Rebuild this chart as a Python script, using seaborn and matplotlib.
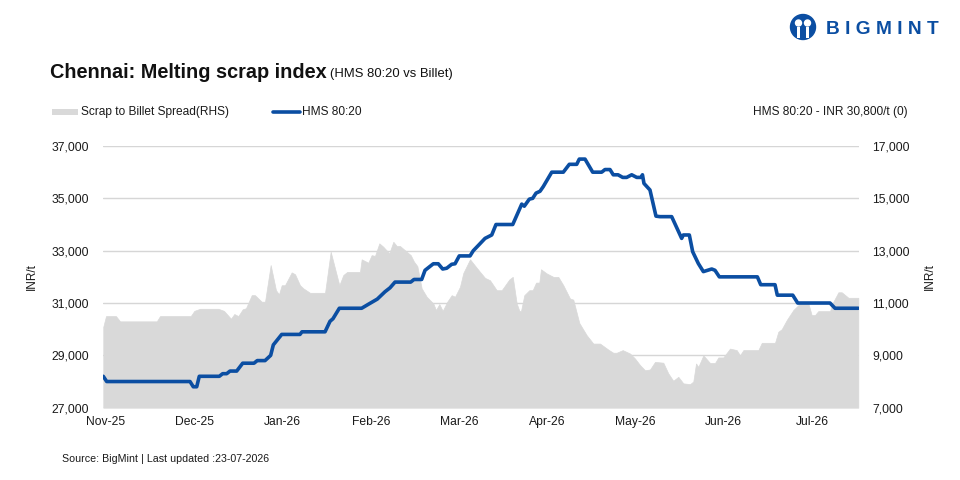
import pandas as pd
import numpy as np
import matplotlib
matplotlib.use('Agg')
import matplotlib.pyplot as plt
import seaborn as sns
from matplotlib.patches import Rectangle, Ellipse
from matplotlib.lines import Line2D
from matplotlib.ticker import FuncFormatter

# x positions are in months from Nov-25 (0 = Nov-25, 8 = Jul-26)
months = ['Nov-25', 'Dec-25', 'Jan-26', 'Feb-26', 'Mar-26',
          'Apr-26', 'May-26', 'Jun-26', 'Jul-26']

hms_x = [-0.031, 0.008, 0.952, 0.989, 1.028, 1.057, 1.284, 1.322, 1.368, 1.405,
         1.481, 1.549, 1.677, 1.714, 1.802, 1.866, 1.896, 1.991, 2.198, 2.221,
         2.482, 2.538, 2.572, 2.644, 2.897, 2.972, 3.074, 3.161, 3.218, 3.275,
         3.453, 3.490, 3.577, 3.615, 3.709, 3.765, 3.815, 3.861, 3.917, 3.955,
         4.003, 4.125, 4.162, 4.219, 4.295, 4.371, 4.419, 4.609, 4.711, 4.740,
         4.797, 4.835, 4.873, 4.918, 4.955, 5.051, 5.182, 5.250, 5.334, 5.363,
         5.428, 5.515, 5.617, 5.654, 5.711, 5.748, 5.802, 5.855, 5.900, 5.957,
         6.014, 6.062, 6.079, 6.096, 6.164, 6.232, 6.277, 6.410, 6.523, 6.542,
         6.610, 6.648, 6.712, 6.769, 6.864, 6.901, 6.950, 7.381, 7.419, 7.581,
         7.607, 7.782, 7.838, 8.204, 8.261, 8.525]
hms_val = [28200, 28000, 28000, 27800, 27800, 28200, 28200, 28300, 28300, 28400,
           28400, 28700, 28700, 28800, 28800, 29000, 29400, 29800, 29800, 29900,
           29900, 30300, 30400, 30800, 30800, 30950, 31150, 31430, 31580, 31800,
           31800, 31900, 31900, 32250, 32500, 32500, 32300, 32330, 32480, 32500,
           32800, 32800, 33000, 33200, 33470, 33600, 34000, 34000, 34780, 34700,
           34970, 35000, 35200, 35270, 35450, 36000, 36000, 36300, 36300, 36500,
           36500, 36000, 36000, 36100, 36100, 35900, 35900, 35800, 35800, 35900,
           35800, 35800, 35900, 35570, 35320, 34320, 34300, 34300, 33470, 33600,
           33600, 32960, 32510, 32200, 32300, 32250, 32000, 32000, 31700, 31700,
           31300, 31300, 31000, 31000, 30800, 30800]

spread_x = [-0.031, 0.000, 0.113, 0.159, 0.575, 0.612, 0.960, 1.001, 1.065, 1.273,
            1.337, 1.416, 1.454, 1.499, 1.549, 1.586, 1.651, 1.688, 1.764, 1.802,
            1.866, 1.926, 1.960, 1.991, 2.028, 2.104, 2.142, 2.198, 2.236, 2.312,
            2.482, 2.546, 2.644, 2.689, 2.734, 2.878, 2.897, 2.972, 3.010, 3.048,
            3.097, 3.142, 3.210, 3.256, 3.294, 3.331, 3.407, 3.453, 3.490, 3.528,
            3.577, 3.634, 3.709, 3.739, 3.777, 3.815, 3.867, 3.917, 3.955, 4.011,
            4.049, 4.125, 4.162, 4.238, 4.295, 4.351, 4.427, 4.484, 4.570, 4.609,
            4.654, 4.684, 4.703, 4.740, 4.797, 4.835, 4.873, 4.910, 4.929, 4.994,
            5.069, 5.125, 5.182, 5.258, 5.295, 5.363, 5.447, 5.522, 5.598, 5.692,
            5.748, 5.786, 5.855, 5.938, 5.994, 6.051, 6.108, 6.164, 6.221, 6.315,
            6.372, 6.428, 6.485, 6.542, 6.618, 6.655, 6.686, 6.712, 6.769, 6.844,
            6.901, 6.939, 6.995, 7.071, 7.147, 7.184, 7.222, 7.392, 7.431, 7.581,
            7.618, 7.657, 7.714, 7.788, 7.864, 7.958, 7.996, 8.034, 8.071, 8.204,
            8.242, 8.299, 8.337, 8.413, 8.525]
spread_val = [10090, 10500, 10500, 10300, 10300, 10500, 10500, 10700, 10780, 10780,
              10700, 10400, 10580, 10500, 10760, 10800, 11300, 11300, 11050, 11050,
              12450, 11490, 11330, 11680, 11680, 12170, 12100, 11680, 11560, 11390,
              11390, 12960, 11680, 12070, 12190, 12190, 12670, 12540, 12830, 12800,
              13280, 13150, 12900, 13340, 13180, 13180, 12960, 12830, 12580, 12410,
              11560, 11240, 10980, 10730, 10960, 10700, 11050, 11300, 11240, 11620,
              12150, 12670, 12510, 12190, 11960, 11870, 11490, 11490, 11900, 12000,
              10980, 10700, 10700, 11300, 11490, 11490, 11780, 11780, 12290, 12130,
              12000, 12000, 11680, 11170, 11130, 10240, 9770, 9450, 9450, 9220,
              9100, 9100, 9200, 9070, 8880, 8630, 8430, 8460, 8750, 8720,
              8310, 8030, 8180, 7930, 7900, 8000, 8690, 8560, 9000, 8710,
              8710, 8920, 8920, 9260, 9200, 9000, 9200, 9200, 9480, 9480,
              9900, 10000, 10350, 10730, 10980, 11000, 10540, 10540, 10690, 10690,
              11050, 11410, 11410, 11200, 11200]

left_ticks = [27000, 29000, 31000, 33000, 35000, 37000]
right_ticks = [7000, 9000, 11000, 13000, 15000, 17000]

BLUE = '#0b4ea2'
GREY = '#d9d9d9'
TXT = '#1a1a1a'

sns.set_style('white')
plt.rcParams['font.family'] = ['Liberation Sans', 'DejaVu Sans']

hms = pd.DataFrame({'x': hms_x, 'HMS 80:20': hms_val})
spread = pd.DataFrame({'x': spread_x, 'spread': spread_val})

fig = plt.figure(figsize=(9.6, 4.8), dpi=100)
# ax2 = base axes (spread, right scale, owns the x axis); ax = twin on top (HMS)
ax2 = fig.add_axes([103 / 960, 1 - 407.7 / 480, 755.5 / 960, 261.7 / 480])
ax = ax2.twinx()
ax.yaxis.tick_left()
ax.yaxis.set_label_position('left')
ax2.yaxis.tick_right()
ax2.yaxis.set_label_position('right')
ax.set_zorder(ax2.get_zorder() + 1)
ax.patch.set_visible(False)

# spread area (right axis), drawn over the grid
ax2.fill_between(spread['x'], 7000, spread['spread'], color=GREY, lw=0.5,
                 edgecolor=GREY, zorder=3)
ax2.set_ylim(7000, 17000)
ax2.set_yticks(right_ticks)
ax2.grid(axis='y', color='#d6d6d6', lw=1, zorder=0)
ax2.set_axisbelow(True)

# HMS line (left axis)
sns.lineplot(data=hms, x='x', y='HMS 80:20', ax=ax, color=BLUE, lw=2.6,
             legend=False, sort=False)
ax.set_ylim(27000, 37000)
ax.set_yticks(left_ticks)

for a in (ax, ax2):
    a.set_xlim(-0.034, 8.527)
    for s in a.spines.values():
        s.set_visible(False)
    a.tick_params(length=0, labelsize=8.7, colors=TXT)
    a.yaxis.set_major_formatter(FuncFormatter(lambda v, p: f'{int(v):,}'))
    a.set_xlabel('')

ax2.set_xticks(range(len(months)))
ax2.set_xticklabels(months)
ax2.tick_params(axis='x', pad=6)
ax.tick_params(axis='y', pad=10)
ax2.tick_params(axis='y', pad=10)
ax.set_ylabel('INR/t', fontsize=8.5, labelpad=10, color=TXT)
ax2.set_ylabel('INR/t', fontsize=8.5, labelpad=10, color=TXT)

# title
fig.text(50 / 960, 1 - 73 / 480, 'Chennai: Melting scrap index', fontsize=14.3,
         fontweight='bold', va='center', ha='left', color='#111111')
fig.text(330 / 960, 1 - 74 / 480, '(HMS 80:20 vs Billet)', fontsize=9.4,
         va='center', ha='left', color='#111111')

# legend row
fig.add_artist(Rectangle((52 / 960, 1 - 115 / 480), 26 / 960, 6 / 480,
                         transform=fig.transFigure, color=GREY, lw=0))
fig.text(81 / 960, 1 - 112 / 480, 'Scrap to Billet Spread(RHS)', fontsize=8.6,
         va='center', ha='left', color=TXT)
fig.add_artist(Line2D([273 / 960, 300 / 960], [1 - 112 / 480, 1 - 112 / 480],
                      transform=fig.transFigure, color=BLUE, lw=2.6))
fig.text(302 / 960, 1 - 112 / 480, 'HMS 80:20', fontsize=8.6,
         va='center', ha='left', color=TXT)
fig.text(908 / 960, 1 - 112 / 480, 'HMS 80:20 - INR 30,800/t (0)', fontsize=8.6,
         va='center', ha='right', color=TXT)

# logo
cx, cy = 803 / 960, 1 - 27 / 480
fig.add_artist(Ellipse((cx, cy), 25 / 960, 25 / 480, transform=fig.transFigure,
                       color=BLUE))
for dx in (-4.5, 4.5):
    fig.add_artist(Ellipse((cx + dx / 960, cy + 4 / 480), 6 / 960, 6 / 480,
                           transform=fig.transFigure, color='white'))
    fig.add_artist(Rectangle((cx + (dx - 1.5) / 960, cy - 11 / 480), 3 / 960, 11 / 480,
                             transform=fig.transFigure, color='white', lw=0))
fig.text(826 / 960, 1 - 29 / 480, 'B I G M I N T', fontsize=13.8,
         fontweight='bold', color=BLUE, va='center', ha='left')

# footer
fig.text(62 / 960, 1 - 459 / 480, 'Source: BigMint | Last updated :23-07-2026',
         fontsize=7.7, va='center', ha='left', color=TXT)

fig.savefig('out.png', dpi=100)
